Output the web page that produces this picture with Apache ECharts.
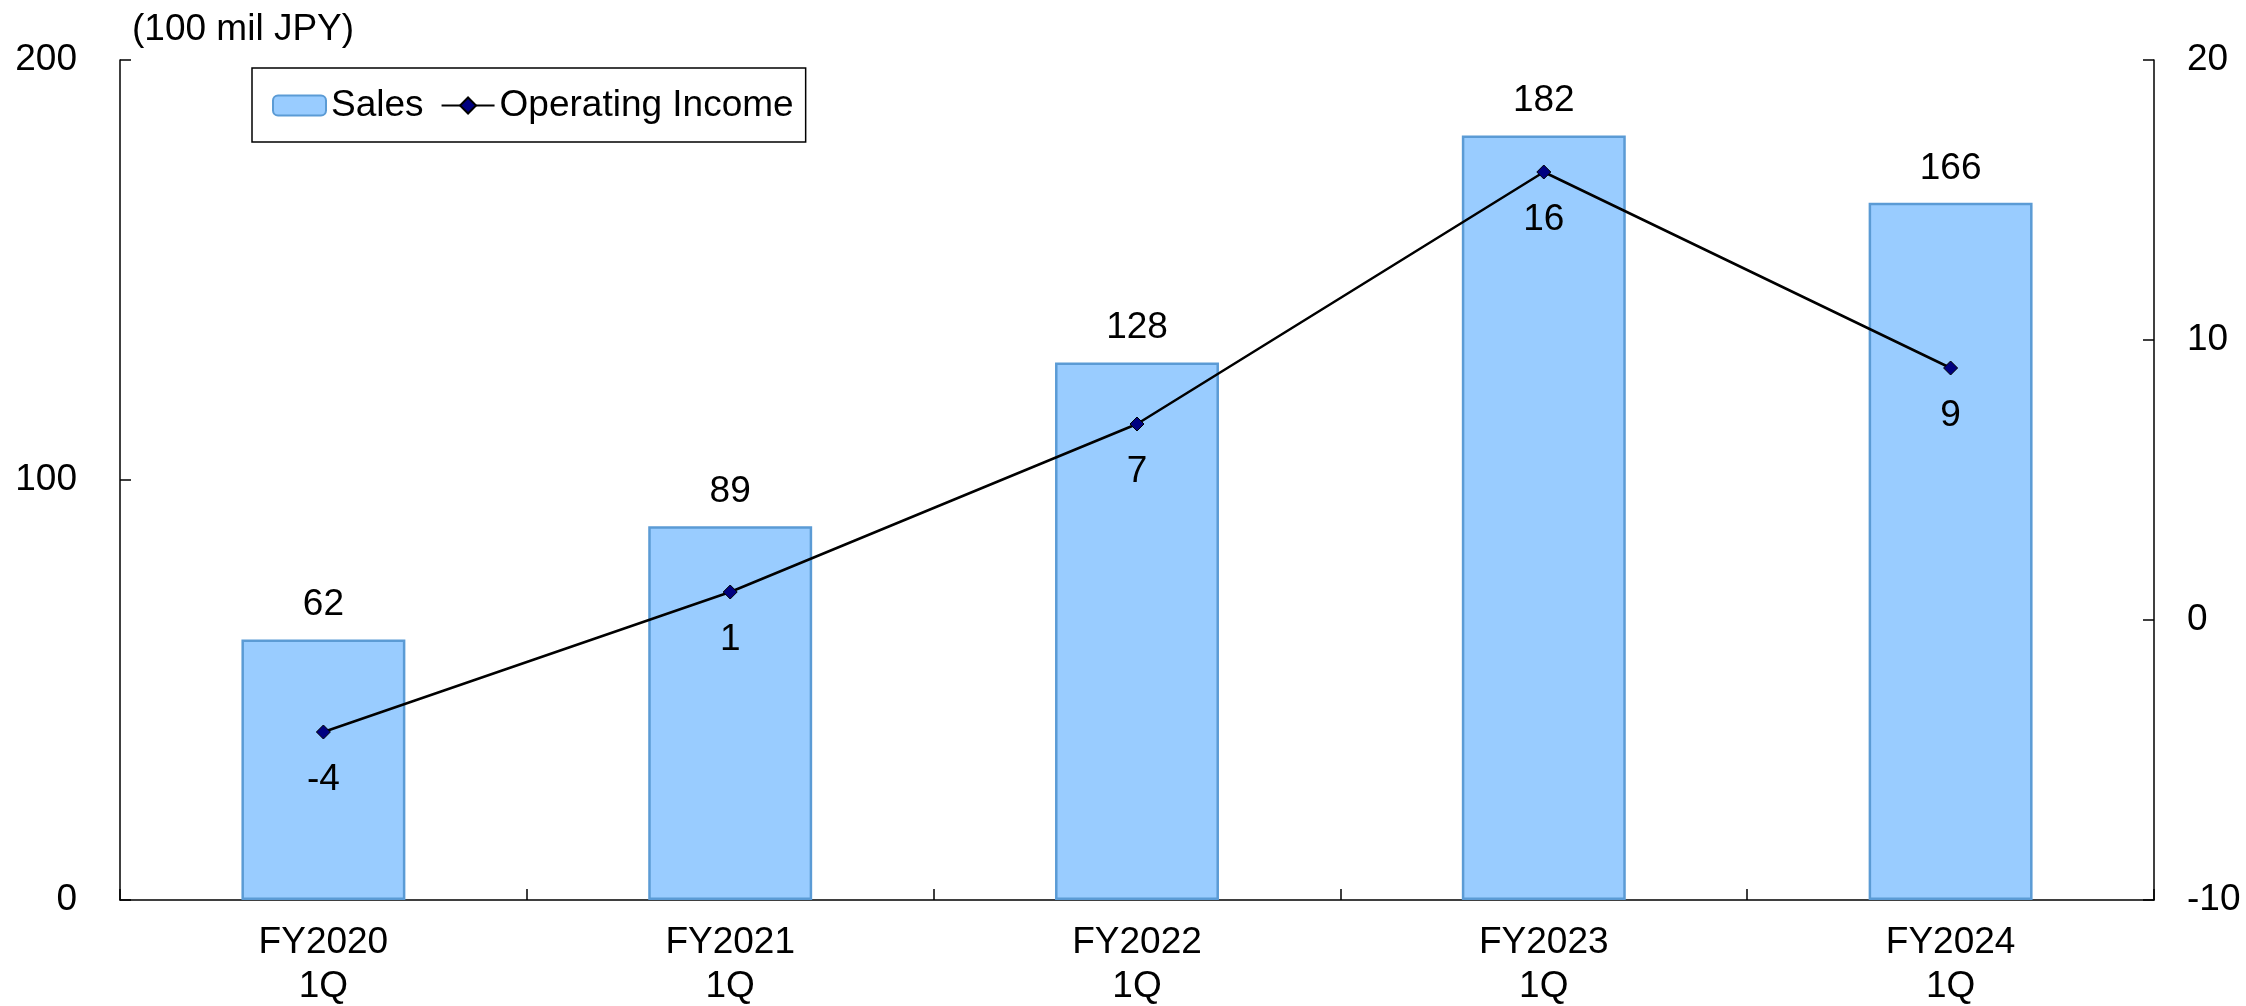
<!DOCTYPE html>
<html>
<head>
<meta charset="utf-8">
<script src="https://cdn.jsdelivr.net/npm/echarts@6/dist/echarts.min.js"></script>
<style>
  html, body { margin: 0; padding: 0; background: #fff; }
  #chart { width: 2246px; height: 1006px; }
</style>
</head>
<body>
<div id="chart"></div>
<script>
// Quarterly results, first quarter of each fiscal year
const categories = ['FY2020\n1Q', 'FY2021\n1Q', 'FY2022\n1Q', 'FY2023\n1Q', 'FY2024\n1Q'];
const sales = [62, 89, 128, 182, 166];
const operatingIncome = [-4, 1, 7, 16, 9];
const unitLabel = '(100 mil JPY)';

const FONT = '"Liberation Sans", Arial, sans-serif';
const TXT = { color: '#000', fontFamily: FONT, fontSize: 37 };

const chart = echarts.init(document.getElementById('chart'), null, { renderer: 'canvas' });

chart.setOption({
  backgroundColor: '#fff',
  animation: false,
  title: {
    text: unitLabel,
    left: 132,
    top: 11,
    padding: 0,
    textStyle: Object.assign({ fontWeight: 'normal' }, TXT)
  },
  legend: {
    left: 252,
    top: 68,
    orient: 'horizontal',
    itemWidth: 53,
    itemHeight: 20,
    itemGap: 17,
    padding: [19, 12, 18, 20],
    borderColor: '#000',
    borderWidth: 1.5,
    backgroundColor: '#fff',
    textStyle: TXT,
    data: ['Sales', 'Operating Income']
  },
  grid: {
    left: 120, right: 92, top: 60, bottom: 106,
    containLabel: false,
    outerBoundsMode: 'none'
  },
  xAxis: {
    type: 'category',
    data: categories,
    axisLine: { lineStyle: { color: '#000', width: 1.5 } },
    axisTick: { show: true, inside: true, length: 11, alignWithLabel: false, lineStyle: { color: '#000', width: 1.5 } },
    axisLabel: Object.assign({ margin: 21, lineHeight: 44 }, TXT),
    splitLine: { show: false }
  },
  yAxis: [
    {
      type: 'value',
      min: 0, max: 200, interval: 100,
      position: 'left',
      axisLine: { show: true, lineStyle: { color: '#000', width: 1.5 } },
      axisTick: { show: true, inside: true, length: 11, lineStyle: { color: '#000', width: 1.5 } },
      axisLabel: Object.assign({ margin: 43 }, TXT),
      splitLine: { show: false }
    },
    {
      type: 'value',
      min: -10, max: 20, interval: 10,
      position: 'right',
      axisLine: { show: true, onZero: false, lineStyle: { color: '#000', width: 1.5 } },
      axisTick: { show: true, inside: true, length: 11, lineStyle: { color: '#000', width: 1.5 } },
      axisLabel: Object.assign({ margin: 33 }, TXT),
      splitLine: { show: false }
    }
  ],
  series: [
    {
      name: 'Sales',
      type: 'bar',
      yAxisIndex: 0,
      data: sales,
      barWidth: '40.3%',
      itemStyle: { color: '#99CCFF', borderColor: '#5B9BD5', borderWidth: 2.5 },
      label: Object.assign({ show: true, position: 'top', distance: 16 }, TXT),
      z: 2
    },
    {
      name: 'Operating Income',
      type: 'line',
      yAxisIndex: 1,
      data: operatingIncome,
      symbol: 'diamond',
      symbolSize: 14,
      lineStyle: { color: '#000', width: 2.5 },
      itemStyle: { color: '#000080', borderColor: '#000', borderWidth: 1 },
      label: Object.assign({ show: true, position: 'bottom', distance: 22 }, TXT),
      z: 3
    }
  ]
});
</script>
</body>
</html>
